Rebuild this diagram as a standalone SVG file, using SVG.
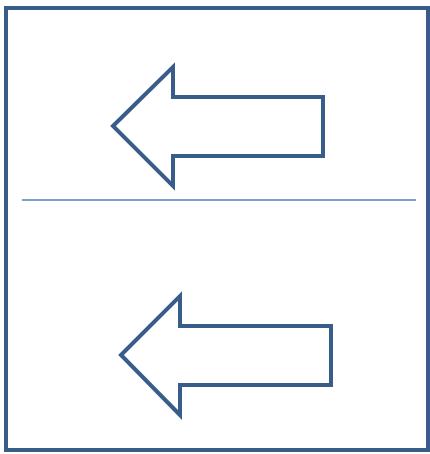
<svg xmlns="http://www.w3.org/2000/svg" width="430" height="454" viewBox="0 0 430 454">
<style>
.frame{fill:#ffffff;stroke:#385d8a;stroke-width:4}
.arrow{fill:#ffffff;stroke:#385d8a;stroke-width:4;stroke-linejoin:miter}
.divider{stroke:#4f81bd;stroke-width:1.5}
</style>
<rect width="430" height="454" fill="#ffffff"/>
<g id="frame"><rect class="frame" x="6" y="8" width="422" height="442"/></g>
<g id="connectors"><line class="divider" x1="22" y1="200" x2="416" y2="200"/></g>
<g id="arrow-top"><polygon class="arrow" points="113,126 173,67 173,97 323,97 323,156 173,156 173,186"/></g>
<g id="arrow-bottom"><polygon class="arrow" points="121,355 180,296 180,326 331,326 331,385 180,385 180,415"/></g>
</svg>
